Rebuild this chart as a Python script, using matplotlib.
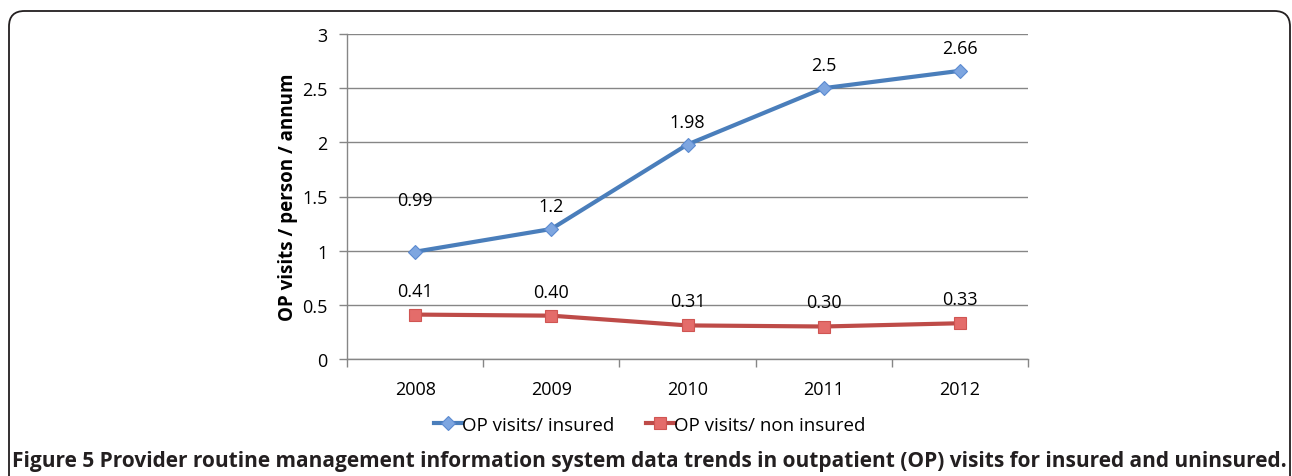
import matplotlib
matplotlib.use("Agg")
import matplotlib.pyplot as plt
from matplotlib.patches import FancyBboxPatch
import numpy as np

years = ["2008", "2009", "2010", "2011", "2012"]
insured = [0.99, 1.2, 1.98, 2.5, 2.66]
insured_labels = ["0.99", "1.2", "1.98", "2.5", "2.66"]
non_insured = [0.41, 0.40, 0.31, 0.30, 0.33]
non_insured_labels = ["0.41", "0.40", "0.31", "0.30", "0.33"]
yticks = [0, 0.5, 1, 1.5, 2, 2.5, 3]
ytick_labels = ["0", "0.5", "1", "1.5", "2", "2.5", "3"]

plt.rcParams['font.family'] = ['Open Sans', 'DejaVu Sans']
FS = 13

fig = plt.figure(figsize=(12.92, 4.77), dpi=100)

# rounded frame
frame = FancyBboxPatch((9/1292, -0.2), (1290-9)/1292, 1.0 - 12/477 + 0.2,
                       boxstyle="round,pad=0,rounding_size=0.012",
                       transform=fig.transFigure, fill=False,
                       edgecolor="#231f20", linewidth=1.3, mutation_aspect=2.7)
fig.patches.append(frame)

ax = fig.add_axes([347/1292, 1-360/477, (1028-347)/1292, (360-35)/477])
x = np.arange(len(years))

ax.plot(x, insured, color="#4a7ebb", linewidth=3, marker="D", markersize=7,
        markerfacecolor="#7ea6e0", markeredgecolor="#5b8ad0", markeredgewidth=0.8,
        label="OP visits/ insured", zorder=3)
ax.plot(x, non_insured, color="#be4b48", linewidth=3, marker="s", markersize=9,
        markerfacecolor="#e46c6a", markeredgecolor="#d05552", markeredgewidth=0.8,
        label="OP visits/ non insured", zorder=3)

ins_off = [52, 23, 23, 23, 23]
for xi, v, t, o in zip(x, insured, insured_labels, ins_off):
    ax.annotate(t, (xi, v), xytext=(0, o * 0.72), textcoords="offset points",
                ha="center", va="center", fontsize=FS, color="#000000")
for xi, v, t in zip(x, non_insured, non_insured_labels):
    ax.annotate(t, (xi, v), xytext=(0, 24 * 0.72), textcoords="offset points",
                ha="center", va="center", fontsize=FS, color="#000000")

ax.set_xlim(-0.5, len(years) - 0.5)
ax.set_ylim(0, 3)
ax.set_yticks(yticks)
ax.set_yticklabels(ytick_labels, fontsize=FS)
ax.set_xticks(x)
ax.set_xticklabels(years, fontsize=FS)
ax.set_xticks(np.arange(-0.5, len(years), 1), minor=True)
ax.tick_params(axis="x", which="major", length=0, pad=15)
ax.tick_params(axis="x", which="minor", length=6, color="#868686", width=1)
ax.tick_params(axis="y", length=6, color="#868686", width=1, pad=8)

ax.grid(axis="y", color="#868686", linewidth=1)
ax.set_axisbelow(True)
for s in ["top", "right"]:
    ax.spines[s].set_visible(False)
for s in ["left", "bottom"]:
    ax.spines[s].set_color("#868686")
    ax.spines[s].set_linewidth(1)

ax.set_ylabel("OP visits / person / annum", fontsize=13.5, fontweight="bold", labelpad=3)

leg = fig.legend(loc="center", bbox_to_anchor=(650/1292, 1-426/477), ncol=2,
                 frameon=False, fontsize=13.5, handlelength=1.5, handletextpad=0.0,
                 columnspacing=1.7)

fig.text(12/1292, 1-462/477,
         "Figure 5 Provider routine management information system data trends in outpatient (OP) visits for insured and uninsured.",
         fontsize=15.0, fontweight="bold", color="#231f20", ha="left", va="center")

fig.savefig("out.png", dpi=100)
